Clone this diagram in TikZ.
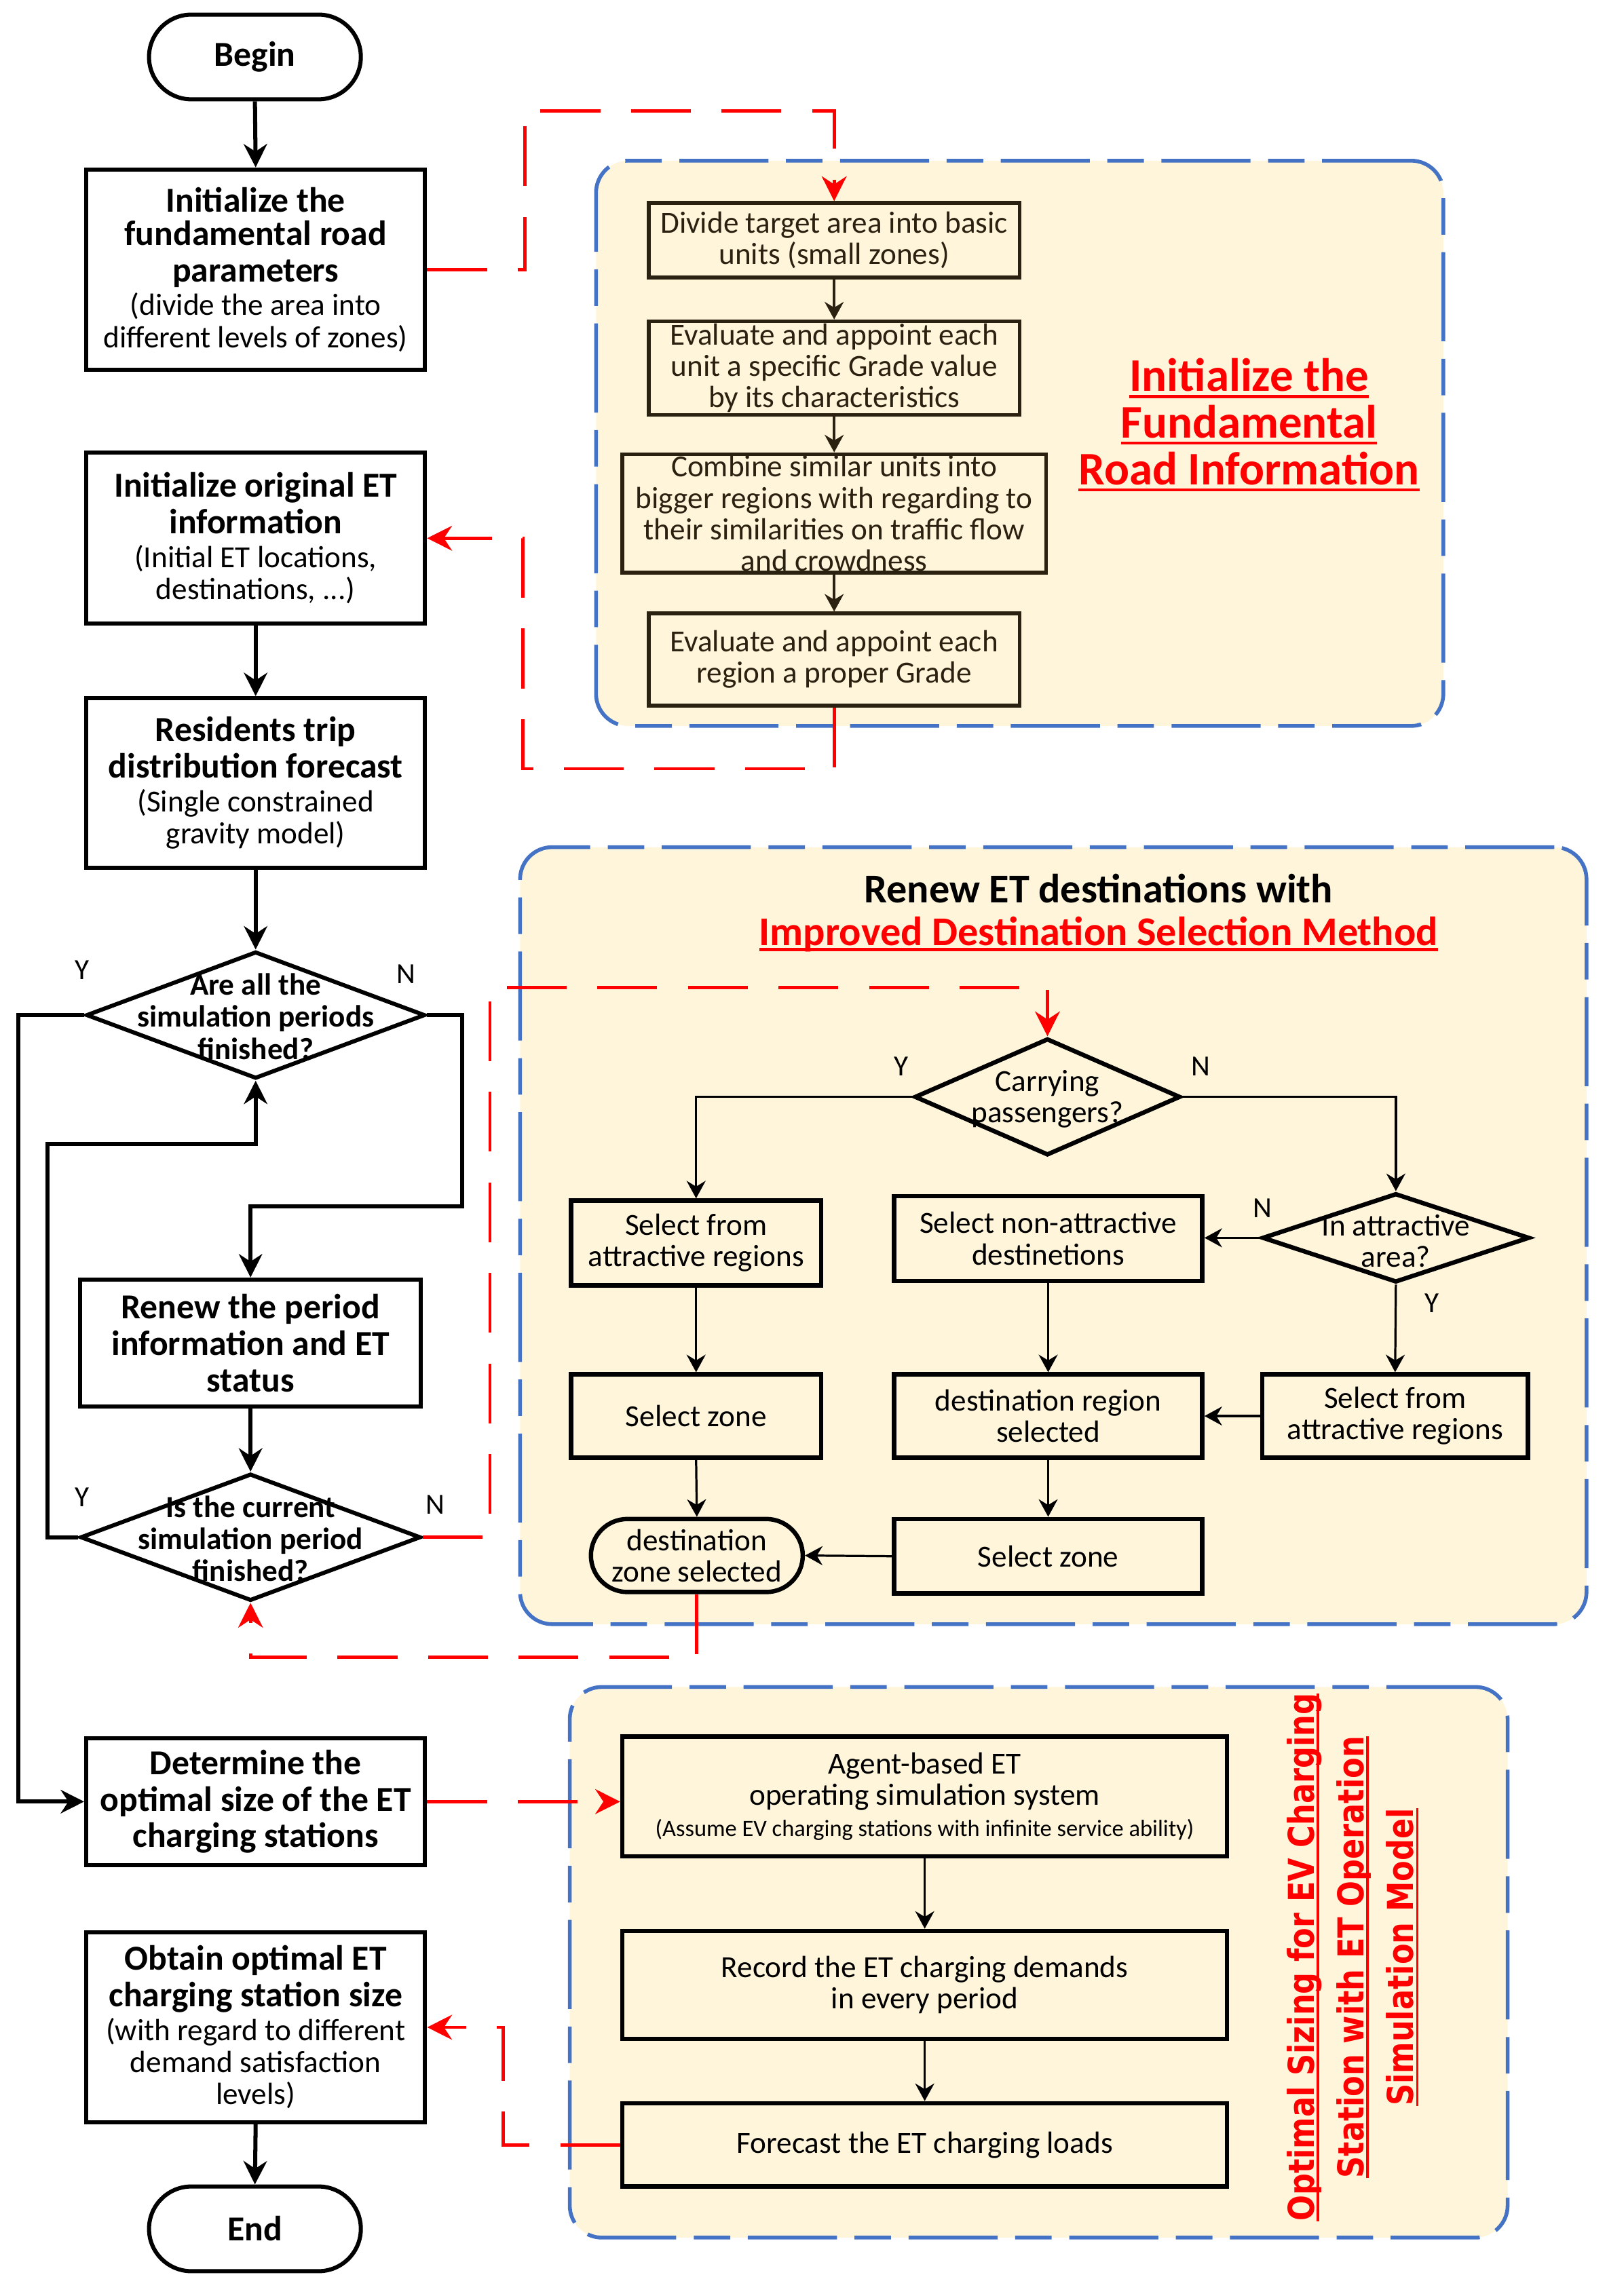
\documentclass[tikz,border=0pt]{standalone}
\usepackage{fontspec}
\setmainfont{Carlito}
\newfontfamily\vfont[FakeStretch=0.85]{DejaVu Sans Bold}
\usetikzlibrary{arrows.meta,shapes.geometric,calc}
\definecolor{cream}{HTML}{FFF5DA}
\definecolor{pblue}{HTML}{4472C4}
\definecolor{rred}{HTML}{FF0000}
\definecolor{dk}{HTML}{2A2110}
\newsavebox\ulbox
\newcommand{\redul}[1]{\sbox\ulbox{#1}\rlap{\rule[-0.14em]{\wd\ulbox}{0.07em}}\usebox\ulbox}
\newcommand{\subt}{\mdseries\fontsize{21}{22}\selectfont}
\begin{document}
\begin{tikzpicture}[x=1pt,y=-1pt,
  mbox/.style={draw, line width=2.8pt, fill=white, minimum width=232pt, align=center, inner sep=0pt,
    font=\fontsize{24}{25}\selectfont\bfseries},
  term/.style={draw, line width=2.8pt, fill=white, rounded corners=29pt, minimum width=145pt, minimum height=58pt,
    font=\fontsize{24}{25}\selectfont\bfseries},
  mdia/.style={draw, shape=diamond, line width=2.8pt, fill=white, inner sep=0pt, minimum width=232pt, minimum height=87pt},
  mdtext/.style={align=center, font=\fontsize{21}{22}\selectfont\bfseries},
  panel/.style={draw=pblue, fill=cream, line width=2.6pt, rounded corners=22pt, dash pattern=on 61pt off 12pt on 25pt off 12pt},
  tbox/.style={draw=dk, text=dk, line width=2.6pt, fill=cream, align=center, inner sep=0pt,
    font=\fontsize{21}{21.5}\selectfont},
  ibox/.style={draw, line width=3pt, fill=cream, align=center, inner sep=0pt,
    font=\fontsize{21}{21.5}\selectfont},
  idia/.style={draw, shape=diamond, line width=3pt, fill=cream, inner sep=0pt},
  itext/.style={align=center, font=\fontsize{21}{21.5}\selectfont},
  yn/.style={font=\fontsize{20}{20}\selectfont},
  marr/.style={line width=2.8pt, -{Stealth[length=16pt,width=16pt]}},
  iarr/.style={line width=1.5pt, -{Stealth[length=12pt,width=13pt]}},
  tarr/.style={draw=dk, line width=1.8pt, -{Stealth[length=12pt,width=13pt]}},
  rdash/.style={draw=rred, line width=2.2pt, dash pattern=on 41pt off 21pt},
  rarr/.style={rdash, -{Stealth[length=17pt,width=17pt]}}
]
\useasboundingbox (0,0) rectangle (1100,1572);

% ---------------- panels ----------------
\node[panel, minimum width=580pt, minimum height=387pt] (P1) at (698,303.5) {};
\node[panel, minimum width=730pt, minimum height=532pt] (P2) at (721,846) {};
\node[panel, minimum width=642pt, minimum height=377pt] (P3) at (711,1343.5) {};

% ---------------- main column ----------------
\node[term] (begin) at (174.5,39) {\raisebox{-1.5pt}{Begin}};
\node[mbox, minimum height=137pt] (b1) at (175,184.5)
  {\raisebox{-2pt}{Initialize the}\\fundamental road\\parameters\\[-2pt]\subt (divide the area into\\[-3pt]\subt different levels of zones)};
\node[mbox, minimum height=117pt] (b2) at (175,368.5)
  {Initialize original ET\\information\\[-2pt]\subt (Initial ET locations,\\[-3pt]\subt destinations, ...)};
\node[mbox, minimum height=116pt] (b3) at (175,536)
  {Residents trip\\distribution forecast\\[-2pt]\subt (Single constrained\\[-3pt]\subt gravity model)};
\node[mdia] (d1) at (175,695) {};
\node[mdtext] at (175,696) {Are all the\\simulation periods\\finished?};
\node[mbox, minimum width=233pt, minimum height=87pt] (b4) at (171.5,919.5)
  {Renew the period\\information and ET\\status};
\node[mdia, minimum width=233pt] (d2) at (171.5,1052.5) {};
\node[mdtext] at (171.5,1053.5) {Is the current\\simulation period\\finished?};
\node[mbox, minimum height=87pt] (b6) at (175,1233.5)
  {Determine the\\optimal size of the ET\\charging stations};
\node[mbox, minimum height=130pt] (b7) at (175,1388)
  {Obtain optimal ET\\charging station size\\[-2pt]\subt (with regard to different\\[-3pt]\subt demand satisfaction\\[-3pt]\subt levels)};
\node[term] (end) at (174.5,1526) {\raisebox{-1.5pt}{End}};

\node[yn] at (56,664) {Y};
\node[yn] at (278,667) {N};
\node[yn] at (56,1025) {Y};
\node[yn] at (298,1030) {N};

\draw[marr] (begin.south) -- (b1.north);
\draw[marr] (b2.south) -- (b3.north);
\draw[marr] (b3.south) -- (d1.north);
\draw[marr] (d1.east) -- ++(24,0) -- ++(0,131) -| (b4.north);
\draw[marr] (b4.south) -- (d2.north);
\draw[marr] (d2.west) -- ++(-21,0) -- ++(0,-269.5) -| (d1.south);
\draw[marr] (d1.west) -- ++(-45,0) |- (b6.west);
\draw[marr] (b7.south) -- (end.north);

% ---------------- top panel ----------------
\node[tbox, minimum width=254pt, minimum height=51pt] (t1) at (571,164.5)
  {Divide target area into basic\\units (small zones)};
\node[tbox, minimum width=254pt, minimum height=64pt] (t2) at (571,252)
  {Evaluate and appoint each\\unit a specific Grade value\\by its characteristics};
\node[tbox, minimum width=290pt, minimum height=81pt] (t3) at (571,351.5)
  {Combine similar units into\\bigger regions with regarding to\\their similarities on traffic flow\\and crowdness};
\node[tbox, minimum width=254pt, minimum height=63pt] (t4) at (571,451.5)
  {Evaluate and appoint each\\region a proper Grade};
\draw[tarr] (t1.south) -- (t2.north);
\draw[tarr] (t2.south) -- (t3.north);
\draw[tarr] (t3.south) -- (t4.north);
\node[text=rred, align=center, font=\fontsize{32}{32}\selectfont\bfseries] (title1) at (855,291)
  {\redul{Initialize the}\\\redul{Fundamental}\\\redul{Road Information}};

% ---------------- middle panel ----------------
\node[align=center, font=\fontsize{28}{29}\selectfont\bfseries] (title2) at (752,625)
  {Renew ET destinations with\\\textcolor{rred}{\redul{Improved Destination Selection Method}}};
\node[idia, minimum width=182pt, minimum height=80pt] (car) at (717,751) {};
\node[itext] at (717,752.5) {Carrying\\passengers?};
\node[ibox, minimum width=171pt, minimum height=58pt] (L1) at (476.5,851) {Select from\\attractive regions};
\node[ibox, minimum width=171pt, minimum height=57pt] (L2) at (476.5,969.5) {Select zone};
\node[ibox, rounded corners=25pt, minimum width=145pt, minimum height=50pt] (S) at (477,1065) {destination\\zone selected};
\node[ibox, minimum width=211pt, minimum height=58pt] (M1) at (717.5,848) {Select non-attractive\\destinetions};
\node[ibox, minimum width=211pt, minimum height=57pt] (M2) at (717.5,969.5) {destination region\\selected};
\node[ibox, minimum width=211pt, minimum height=51pt] (M3) at (717.5,1065.5) {Select zone};
\node[idia, minimum width=183pt, minimum height=61pt] (DR) at (955.5,847.5) {};
\node[itext] at (955.5,849.5) {In attractive\\area?};
\node[ibox, minimum width=182pt, minimum height=57pt] (R1) at (955,969.5) {Select from\\attractive regions};

\node[yn] at (617,730) {Y};
\node[yn] at (822,730) {N};
\node[yn] at (864,827) {N};
\node[yn] at (980,892) {Y};

\draw[iarr] (car.west) -| (L1.north);
\draw[iarr] (car.east) -| (DR.north);
\draw[iarr] (DR.west) -- (M1.east |- DR.west);
\draw[iarr] (DR.south) -- (R1.north);
\draw[iarr] (R1.west) -- (M2.east);
\draw[iarr] (M1.south) -- (M2.north);
\draw[iarr] (M2.south) -- (M3.north);
\draw[iarr] (M3.west) -- (S.east);
\draw[iarr] (L1.south) -- (L2.north);
\draw[iarr] (L2.south) -- (S.north);

% ---------------- bottom panel ----------------
\node[ibox, minimum width=414pt, minimum height=82pt] (B1) at (633,1230)
  {Agent-based ET\\operating simulation system\\{\fontsize{16}{22}\selectfont (Assume EV charging stations with infinite service ability)}};
\node[ibox, minimum width=414pt, minimum height=74pt] (B2) at (633,1359)
  {Record the ET charging demands\\in every period};
\node[ibox, minimum width=414pt, minimum height=57pt] (B3) at (633,1468.5)
  {Forecast the ET charging loads};
\draw[iarr] (B1.south) -- (B2.north);
\draw[iarr] (B2.south) -- (B3.north);
\node[rotate=90, text=rred, align=center, font=\vfont\fontsize{24.4}{34}\selectfont] (title3) at (926,1340)
  {\redul{Optimal Sizing for EV Charging}\\\redul{Station with ET Operation}\\\redul{Simulation Model}};

% ---------------- red links ----------------
\draw[rarr] (b1.east) -- ++(67,0) -- ++(0,-108.5) -| (t1.north);
\draw[rarr] (t4.south) -- ++(0,42) -- ++(-213,0) |- (b2.east);
\draw[rarr] (d2.east) -- ++(46,0) -- ++(0,-376.5) -| (car.north);
\draw[rarr] (S.south) -- ++(0,43) -| (d2.south);
\draw[rarr] (b6.east) -- (b6.east -| B1.west);
\draw[rarr] (B3.west) -- ++(-80,0) |- (b7.east);

\end{tikzpicture}
\end{document}
